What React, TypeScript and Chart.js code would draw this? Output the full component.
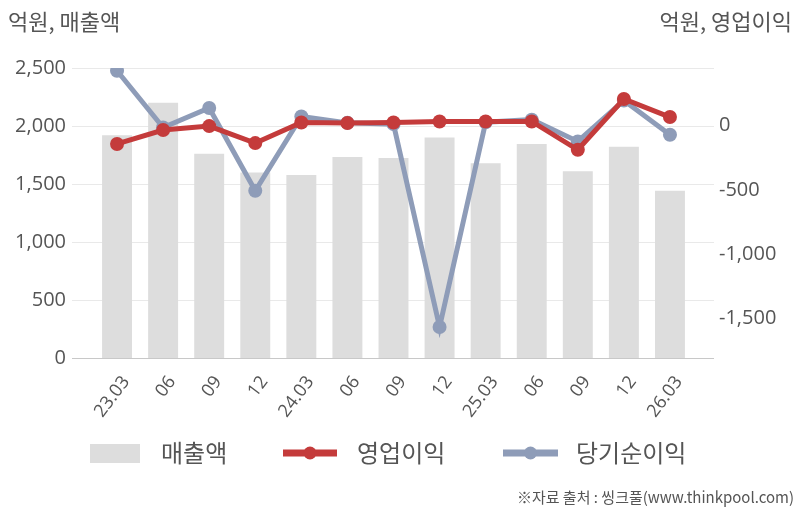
import React, { useEffect, useRef } from "react";
import { Chart, registerables } from "chart.js";

Chart.register(...registerables);

const categories = ["23.03", "06", "09", "12", "24.03", "06", "09", "12", "25.03", "06", "09", "12", "26.03"];
const sales = [1920, 2200, 1760, 1600, 1578, 1733, 1724, 1900, 1678, 1845, 1609, 1822, 1442];
const operatingProfit = [-144, -36, -5, -137, 23, 19, 23, 31, 31, 31, -189, 205, 65];
const netProfit = [425, -16, 135, -507, 70, 20, 10, -1565, 25, 45, -124, 194, -72];
const leftTicks = [0, 500, 1000, 1500, 2000, 2500];
const rightTicks = [-1500, -1000, -500, 0];

const seriesNames = ["매출액", "영업이익", "당기순이익"];
const colors = { bar: "#dddddd", red: "#c43b3b", blue: "#8e9cb8", grid: "#e9e9e9", axis: "#c8c8c8" };

const NUM_FONT = "'Open Sans', 'Noto Sans', sans-serif";
const KR_FONT = "'Noto Sans CJK KR', 'Noto Sans', sans-serif";

const GRID_LEFT = 72;
const GRID_RIGHT = 714;

const gridPlugin = {
  id: "wideGrid",
  beforeDatasetsDraw(chart: any) {
    const ctx = chart.ctx as CanvasRenderingContext2D;
    const ys = chart.scales.y;
    ctx.save();
    ctx.lineWidth = 1;
    leftTicks.forEach((v) => {
      const y = Math.round(ys.getPixelForValue(v)) + 0.5;
      ctx.strokeStyle = v === 0 ? colors.axis : colors.grid;
      ctx.beginPath();
      ctx.moveTo(GRID_LEFT, y);
      ctx.lineTo(GRID_RIGHT, y);
      ctx.stroke();
    });
    ctx.restore();
  },
};

const decorPlugin = {
  id: "decor",
  afterDraw(chart: any) {
    const ctx = chart.ctx as CanvasRenderingContext2D;
    ctx.save();
    ctx.fillStyle = "#555";
    ctx.font = `22px ${KR_FONT}`;
    ctx.textBaseline = "middle";
    ctx.textAlign = "left";
    ctx.fillText("억원, 매출액", 8, 22);
    ctx.textAlign = "right";
    ctx.fillText("억원, 영업이익", 792, 22);

    const ly = 453;
    ctx.textAlign = "left";
    ctx.font = `24px ${KR_FONT}`;
    ctx.fillStyle = colors.bar;
    ctx.fillRect(90, 444, 50, 19);
    ctx.fillStyle = "#555";
    ctx.fillText(seriesNames[0], 161, ly);

    const drawLineItem = (x0: number, x1: number, col: string, label: string, tx: number) => {
      ctx.strokeStyle = col;
      ctx.lineWidth = 7;
      ctx.beginPath();
      ctx.moveTo(x0, ly);
      ctx.lineTo(x1, ly);
      ctx.stroke();
      ctx.fillStyle = col;
      ctx.beginPath();
      ctx.arc((x0 + x1) / 2, ly, 6.5, 0, Math.PI * 2);
      ctx.fill();
      ctx.fillStyle = "#555";
      ctx.fillText(label, tx, ly);
    };
    drawLineItem(283, 337, colors.red, seriesNames[1], 357);
    drawLineItem(503, 558, colors.blue, seriesNames[2], 576);

    ctx.font = `15px ${KR_FONT}`;
    ctx.textAlign = "right";
    ctx.fillStyle = "#555";
    ctx.fillText("※자료 출처 : 씽크풀(www.thinkpool.com)", 794, 497);
    ctx.restore();
  },
};

export default function App() {
  const ref = useRef<HTMLCanvasElement>(null);
  useEffect(() => {
    document.body.style.margin = "0";
    const chart = new Chart(ref.current as HTMLCanvasElement, {
      type: "bar",
      data: {
        labels: categories,
        datasets: [
          {
            type: "line",
            label: seriesNames[1],
            data: operatingProfit,
            yAxisID: "y1",
            borderColor: colors.red,
            backgroundColor: colors.red,
            borderWidth: 5,
            pointRadius: 7,
            pointBorderWidth: 0,
            pointBackgroundColor: colors.red,
            order: 0,
          } as any,
          {
            type: "line",
            label: seriesNames[2],
            data: netProfit,
            yAxisID: "y1",
            borderColor: colors.blue,
            backgroundColor: colors.blue,
            borderWidth: 5,
            pointRadius: 7,
            pointBorderWidth: 0,
            pointBackgroundColor: colors.blue,
            order: 1,
          } as any,
          {
            type: "bar",
            label: seriesNames[0],
            data: sales,
            yAxisID: "y",
            backgroundColor: colors.bar,
            barPercentage: 0.65,
            categoryPercentage: 1,
            order: 2,
          },
        ],
      },
      options: {
        responsive: false,
        animation: false,
        devicePixelRatio: 1,
        layout: { padding: { top: 68, left: 0, right: 0, bottom: 0 } },
        plugins: { legend: { display: false }, tooltip: { enabled: false } },
        scales: {
          x: {
            offset: true,
            grid: { display: false },
            border: { display: false },
            ticks: {
              color: "#555",
              font: { family: NUM_FONT, size: 18 },
              minRotation: 53,
              maxRotation: 53,
              autoSkip: false,
              padding: 6,
              labelOffset: 9,
            },
            afterFit: (axis: any) => {
              axis.height = 154;
            },
          },
          y: {
            position: "left",
            min: 0,
            max: 2500,
            afterBuildTicks: (axis: any) => {
              axis.ticks = leftTicks.map((v) => ({ value: v }));
            },
            grid: { display: false, drawTicks: false },
            border: { display: false },
            ticks: {
              color: "#555",
              font: { family: NUM_FONT, size: 20 },
              padding: 28,
              callback: (v: any) => Number(v).toLocaleString("en-US"),
            },
            afterFit: (axis: any) => {
              axis.width = 94;
            },
          },
          y1: {
            position: "right",
            min: -1806,
            max: 446,
            afterBuildTicks: (axis: any) => {
              axis.ticks = rightTicks.map((v) => ({ value: v }));
            },
            grid: { display: false, drawTicks: false },
            border: { display: false },
            ticks: {
              color: "#555",
              font: { family: NUM_FONT, size: 20 },
              padding: 26,
              callback: (v: any) => Number(v).toLocaleString("en-US"),
            },
            afterFit: (axis: any) => {
              axis.width = 109;
            },
          },
        },
      },
      plugins: [gridPlugin, decorPlugin],
    });
    return () => chart.destroy();
  }, []);
  return (
    <div style={{ position: "absolute", left: 0, top: 0, width: 802, height: 512, background: "#fff" }}>
      <canvas ref={ref} width={802} height={512} />
    </div>
  );
}
